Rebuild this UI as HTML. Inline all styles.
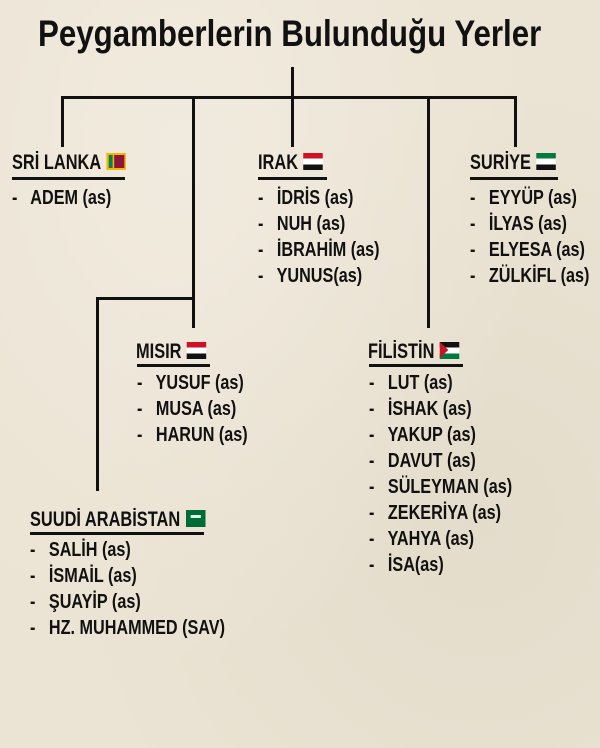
<!DOCTYPE html>
<html><head><meta charset="utf-8">
<style>
html,body{margin:0;padding:0}
body{width:600px;height:748px;position:relative;overflow:hidden;background:#ebe3d3;
background-image:radial-gradient(ellipse at 30% 20%,#f1ebdf 0%,rgba(0,0,0,0) 60%),radial-gradient(ellipse at 80% 70%,#e4dccb 0%,rgba(0,0,0,0) 60%);
font-family:"Liberation Sans",sans-serif;color:#111}
.t{position:absolute;white-space:nowrap;font-weight:bold;transform-origin:0 0;transform:scaleX(.81)}
.title{left:38px;top:13px;font-size:37px;transform:scaleX(.845)}
.h{font-size:21px;transform:scaleX(.78)}
.i{font-size:20px}
.l{position:absolute;background:#111}
.f{display:inline-block;width:25px;height:17px;vertical-align:-1px;margin-left:7px;position:relative}
</style></head><body>
<div class="t title">Peygamberlerin Bulunduğu Yerler</div>

<div class="l" style="left:291px;top:67px;width:3px;height:32px"></div>
<div class="l" style="left:61px;top:96px;width:456px;height:3px"></div>
<div class="l" style="left:61px;top:96px;width:3px;height:51px"></div>
<div class="l" style="left:192px;top:96px;width:3px;height:232px"></div>
<div class="l" style="left:96px;top:297px;width:99px;height:3px"></div>
<div class="l" style="left:96px;top:297px;width:3px;height:194px"></div>
<div class="l" style="left:291px;top:96px;width:3px;height:51px"></div>
<div class="l" style="left:427px;top:96px;width:3px;height:232px"></div>
<div class="l" style="left:514px;top:96px;width:3px;height:51px"></div>

<div class="t h" style="left:12px;top:151px">SRİ LANKA<span class="f" style="background:#f7b500"><span style="position:absolute;left:3px;top:2px;width:5px;height:13px;background:#00805a"></span><span style="position:absolute;left:10px;top:2px;width:13px;height:13px;background:#8d153a"></span></span></div>
<div class="l" style="left:12px;top:177px;width:113px;height:3px"></div>
<div class="t i" style="left:12px;top:187px">-&nbsp;&nbsp; ADEM (as)</div>

<div class="t h" style="left:258px;top:151px">IRAK<span class="f" style="background:linear-gradient(#ce1126 0 33%,#fff 33% 67%,#111 67%)"></span></div>
<div class="l" style="left:258px;top:177px;width:69px;height:3px"></div>
<div class="t i" style="left:258px;top:187px">-&nbsp;&nbsp; İDRİS (as)</div>
<div class="t i" style="left:258px;top:213px">-&nbsp;&nbsp; NUH (as)</div>
<div class="t i" style="left:258px;top:239px">-&nbsp;&nbsp; İBRAHİM (as)</div>
<div class="t i" style="left:258px;top:265px">-&nbsp;&nbsp; YUNUS(as)</div>

<div class="t h" style="left:470px;top:151px">SURİYE<span class="f" style="background:linear-gradient(#007a3d 0 33%,#fff 33% 67%,#111 67%)"></span></div>
<div class="l" style="left:470px;top:177px;width:88px;height:3px"></div>
<div class="t i" style="left:470px;top:187px">-&nbsp;&nbsp; EYYÜP (as)</div>
<div class="t i" style="left:470px;top:213px">-&nbsp;&nbsp; İLYAS (as)</div>
<div class="t i" style="left:470px;top:239px">-&nbsp;&nbsp; ELYESA (as)</div>
<div class="t i" style="left:470px;top:265px">-&nbsp;&nbsp; ZÜLKİFL (as)</div>

<div class="t h" style="left:136px;top:340px">MISIR<span class="f" style="background:linear-gradient(#ce1126 0 33%,#fff 33% 67%,#111 67%)"></span></div>
<div class="l" style="left:137px;top:364px;width:73px;height:3px"></div>
<div class="t i" style="left:137px;top:372px">-&nbsp;&nbsp; YUSUF (as)</div>
<div class="t i" style="left:137px;top:398px">-&nbsp;&nbsp; MUSA (as)</div>
<div class="t i" style="left:137px;top:424px">-&nbsp;&nbsp; HARUN (as)</div>

<div class="t h" style="left:368px;top:340px">FİLİSTİN<span class="f" style="background:linear-gradient(#111 0 33%,#fff 33% 67%,#007a3d 67%)"><span style="position:absolute;left:0;top:0;width:0;height:0;border-top:8.5px solid transparent;border-bottom:8.5px solid transparent;border-left:11px solid #ce1126"></span></span></div>
<div class="l" style="left:369px;top:364px;width:94px;height:3px"></div>
<div class="t i" style="left:369px;top:372px">-&nbsp;&nbsp; LUT (as)</div>
<div class="t i" style="left:369px;top:398px">-&nbsp;&nbsp; İSHAK (as)</div>
<div class="t i" style="left:369px;top:424px">-&nbsp;&nbsp; YAKUP (as)</div>
<div class="t i" style="left:369px;top:450px">-&nbsp;&nbsp; DAVUT (as)</div>
<div class="t i" style="left:369px;top:476px">-&nbsp;&nbsp; SÜLEYMAN (as)</div>
<div class="t i" style="left:369px;top:502px">-&nbsp;&nbsp; ZEKERİYA (as)</div>
<div class="t i" style="left:369px;top:528px">-&nbsp;&nbsp; YAHYA (as)</div>
<div class="t i" style="left:369px;top:554px">-&nbsp;&nbsp; İSA(as)</div>

<div class="t h" style="left:30px;top:508px">SUUDİ ARABİSTAN<span class="f" style="background:#006c35"><span style="position:absolute;left:6px;top:5px;width:13px;height:3px;background:#dfe"></span></span></div>
<div class="l" style="left:30px;top:532px;width:174px;height:3px"></div>
<div class="t i" style="left:30px;top:539px">-&nbsp;&nbsp; SALİH (as)</div>
<div class="t i" style="left:30px;top:565px">-&nbsp;&nbsp; İSMAİL (as)</div>
<div class="t i" style="left:30px;top:591px">-&nbsp;&nbsp; ŞUAYİP (as)</div>
<div class="t i" style="left:30px;top:617px">-&nbsp;&nbsp; HZ. MUHAMMED (SAV)</div>
</body></html>
